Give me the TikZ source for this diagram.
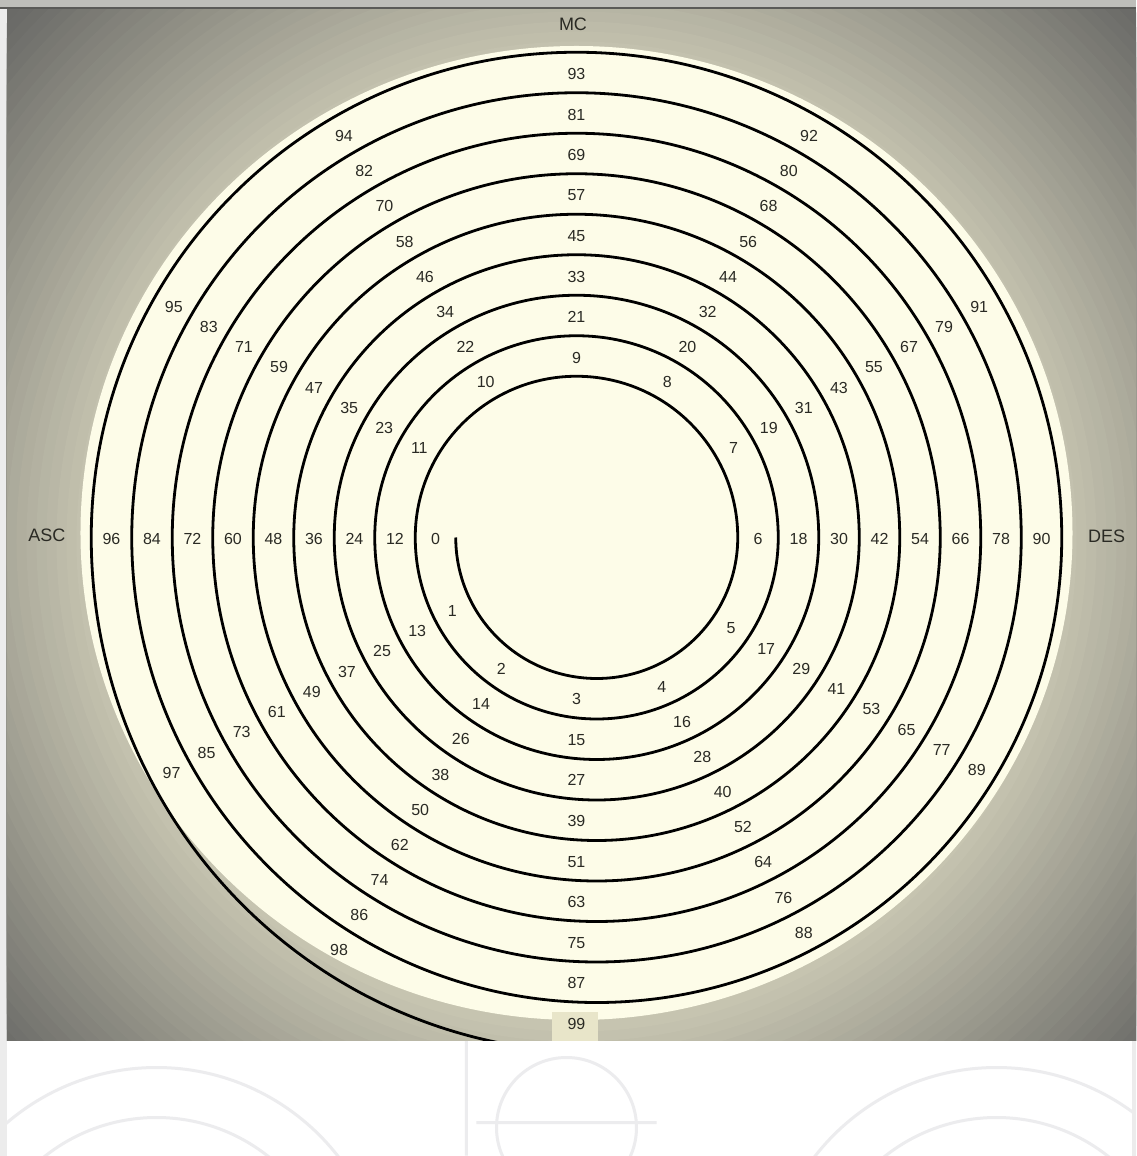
\documentclass[tikz,border=0pt]{standalone}
\usepackage{fontspec}
\setmainfont{Liberation Sans}
\definecolor{pagebg}{RGB}{236,236,236}
\definecolor{barfill}{RGB}{190,190,186}
\definecolor{barline}{RGB}{90,90,88}
\definecolor{bgnear}{RGB}{198,196,176}
\definecolor{bgout}{RGB}{106,106,103}
\definecolor{discin}{RGB}{253,252,232}
\definecolor{discout}{RGB}{232,229,201}
\definecolor{ink}{RGB}{42,42,36}
\definecolor{sketch}{RGB}{236,236,238}
\pgfdeclareradialshading{discshade}{\pgfpoint{0bp}{0bp}}{color(0bp)=(discin); color(28bp)=(discin); color(50bp)=(discout)}

\begin{document}
\begin{tikzpicture}[x=1pt,y=1pt,
  numlabel/.style={text=ink,font=\fontsize{16}{16}\selectfont,inner sep=0pt},
  axislabel/.style={text=ink,font=\fontsize{18}{18}\selectfont,inner sep=0pt},
  spiral/.style={line width=2.8pt,line join=round},
  faint/.style={draw=sketch,line width=3pt}]
  \useasboundingbox (-576.5,-618.5) rectangle (559.5,537.5);
  \fill[pagebg] (-576.5,-618.5) rectangle (559.5,537.5);
  % lower strip with the faded drawings
  \fill[white] (-569.5,-618.5) rectangle (555.5,-502.5);
  \begin{scope}
    \clip (-569.5,-618.5) rectangle (555.5,-502.5);
    \draw[faint] (-420,-760) circle (230) (-420,-760) circle (180);
    \draw[faint] (-10,-590) circle (70) (-110,-502) -- (-110,-618) (-100,-585) -- (80,-585);
    \draw[faint] (420,-760) circle (230) (420,-760) circle (180);
  \end{scope}
  % chart panel
  \begin{scope}
    \clip (-569.5,-502.5) rectangle (559.5,529.5);
    \fill[bgout] (-569.5,-502.5) rectangle (559.5,529.5);
    \foreach \r in {770,760,...,490} {
      \pgfmathtruncatemacro{\p}{(\r-490)/2.8}
      \fill[bgout!\p!bgnear] (0,-4) circle (\r);
    }
    \shade[shading=discshade] (0,4.5) ellipse [x radius=496, y radius=487];
    \fill[discout] (-24.5,-474.5) rectangle (21.5,-510);
    \draw[spiral] (-120.75,0) \foreach \j in {0,...,8} {
        arc[start angle=180, end angle=360, radius=141+40.5*\j]
        arc[start angle=0, end angle=180, radius=161.25+40.5*\j] }
      arc[start angle=180, end angle=275, x radius=505.5, y radius=515];
    \foreach \n in {0,...,99} {
      \pgfmathtruncatemacro{\m}{mod(\n,12)}
      \pgfmathtruncatemacro{\k}{div(\n,12)}
      \pgfmathsetmacro{\a}{180+30*\n}
      \pgfmathsetmacro{\s}{\m<=6 ? 20.25*cos(\a)+10*sqrt(((161.25+40.5*\k)/10)^2-(2.025*sin(\a))^2) : 181.5+40.5*\k}
      \node[numlabel] (n\n) at ([yshift=-1.5pt]\a:\s) {\n};
    }
  \end{scope}
  \fill[barfill] (-576.5,529.5) rectangle (559.5,537.5);
  \draw[barline,line width=1.5pt] (-576.5,529.5) -- (559.5,529.5);
  \node[axislabel] (mc) at (-3.5,513.5) {MC};
  \node[axislabel] (asc) at (-529.5,2) {ASC};
  \node[axislabel] (des) at (530.2,1.5) {DES};
\end{tikzpicture}
\end{document}
